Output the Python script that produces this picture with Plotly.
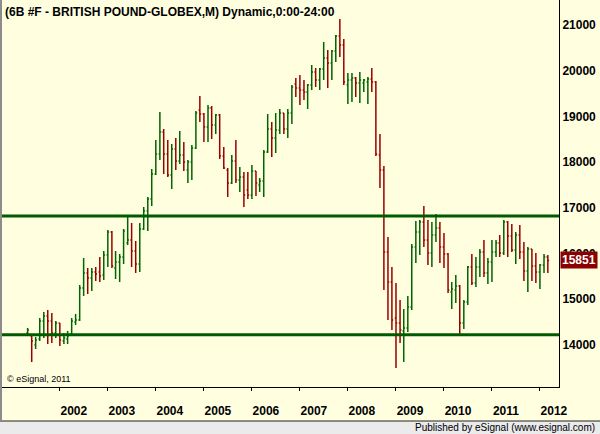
import pandas as pd
import plotly.graph_objects as go

# Monthly bars, May 2001 .. Mar 2012
months = pd.date_range("2001-05-01", periods=131, freq="MS")

opens = [14263, 14197, 14000, 14131, 14525, 14635, 14525, 14263,
         14481, 14088, 14131, 14241, 14503, 14547, 15247, 15575, 15466, 15597, 15597, 15531,
         15969, 16472, 15685, 15816, 15925, 16231, 16297, 16056, 15772, 16538, 16931, 17194,
         17741, 18178, 18659, 18178, 17719, 18288, 18025, 18156, 17828, 18003, 18310, 19141,
         19053, 18769, 19185, 18813, 19031, 18135, 17828, 17544, 18025, 17610, 17675, 17391,
         17281, 17806, 17500, 17588, 18222, 18725, 18528, 18703, 19075, 18725, 19075, 19710,
         19622, 19578, 19534, 19688, 19972, 19797, 20038, 20278, 20169, 20431, 20759, 20563,
         19688, 19797, 19841, 19731, 19731, 19753, 19819, 19753, 18156, 17828, 16035, 15378,
         14591, 14481, 14306, 14372, 14831, 16144, 16472, 16691, 16297, 16013, 16406, 16560,
         16144, 15991, 15160, 15203, 15291, 14481, 14941, 15706, 15356, 15706, 16035, 15575,
         15816, 16035, 16231, 16013, 16691, 16385, 16078, 16406, 16035, 15619, 16100, 15728,
         15597, 15750, 15925]

highs = [14372, 14197, 14175, 14591, 14722, 14766, 14700, 14525,
         14481, 14263, 14306, 14591, 14678, 15313, 15903, 15685, 15685, 15706, 15925, 16056,
         16516, 16494, 16056, 15991, 16538, 16822, 16669, 16275, 16669, 17019, 17238, 17850,
         18484, 19097, 18725, 18484, 18397, 18528, 18681, 18441, 18047, 18375, 19119, 19447,
         19075, 19250, 19228, 19053, 19053, 18331, 17872, 18156, 18484, 17894, 17785, 17785,
         17938, 17806, 17653, 18266, 19053, 18878, 19075, 19163, 19075, 19163, 19688, 19841,
         19906, 19797, 19710, 20125, 20059, 20059, 20628, 20453, 20453, 20781, 21131, 20694,
         19950, 19950, 19863, 19972, 19819, 19863, 20059, 19775, 18616, 17916, 16363, 15706,
         15356, 14985, 14788, 15072, 16210, 16713, 16735, 17041, 16735, 16691, 16866, 16691,
         16450, 16013, 15378, 15531, 15313, 14985, 15728, 15991, 15925, 16100, 16297, 15903,
         16297, 16297, 16406, 16735, 16713, 16647, 16472, 16625, 16253, 16144, 16100, 16013,
         15772, 15991, 15969]

lows = [14241, 13628, 13913, 14088, 14153, 14022, 14044, 14153,
        13978, 14022, 14022, 14219, 14438, 14525, 15072, 15116, 15181, 15400, 15378, 15422,
        15706, 15685, 15444, 15378, 15772, 16188, 15706, 15575, 15597, 16516, 16494, 17041,
        17719, 18047, 17741, 17675, 17413, 17828, 17960, 17806, 17544, 17610, 18288, 18878,
        18441, 18441, 18506, 18616, 18069, 17850, 17238, 17522, 17544, 17347, 17019, 17194,
        17194, 17260, 17347, 17238, 18200, 18113, 18200, 18616, 18616, 18528, 18835, 19425,
        19250, 19359, 19163, 19578, 19644, 19578, 19797, 19622, 19797, 20191, 20300, 19688,
        19272, 19316, 19425, 19294, 19534, 19272, 19534, 18135, 17435, 15203, 14547, 14328,
        13497, 14044, 13628, 14285, 14766, 15794, 15969, 16144, 15750, 15706, 16253, 15794,
        15685, 15138, 14788, 14919, 14219, 14350, 14875, 15313, 15269, 15488, 15488, 15335,
        15378, 15925, 15925, 15969, 15925, 16035, 15772, 15881, 15400, 15160, 15400, 15356,
        15225, 15575, 15575]

closes = [14328, 14088, 14110, 14525, 14635, 14525, 14263, 14481,
          14110, 14153, 14197, 14525, 14547, 15247, 15575, 15466, 15597, 15553, 15510, 15969,
          16472, 15728, 15816, 15925, 16494, 16297, 16056, 15772, 16538, 16931, 17194, 17741,
          18178, 18659, 18178, 17719, 18288, 18025, 18156, 18003, 18003, 18310, 19075, 19053,
          18769, 19185, 18813, 19031, 18135, 17872, 17544, 18025, 17610, 17675, 17281, 17281,
          17806, 17544, 17588, 18222, 18725, 18528, 18703, 19075, 18725, 19075, 19644, 19622,
          19578, 19534, 19688, 19972, 19797, 20038, 20278, 20169, 20431, 20759, 20563, 19753,
          19797, 19841, 19731, 19797, 19797, 19819, 19753, 18178, 17828, 16035, 15378, 14547,
          14481, 14328, 14372, 14831, 16144, 16472, 16691, 16297, 16013, 16406, 16560, 16144,
          15991, 15203, 15225, 15291, 14481, 14941, 15706, 15356, 15706, 16035, 15575, 15816,
          16035, 16231, 16013, 16691, 16385, 16078, 16406, 16035, 15619, 16100, 15728, 15597,
          15750, 15925, 15851]

year_labels = ["2002", "2003", "2004", "2005", "2006", "2007", "2008", "2009", "2010", "2011", "2012"]
year_ticks = [f"{y}-01-01" for y in year_labels]
price_ticks = [14000, 15000, 16000, 17000, 18000, 19000, 20000, 21000]
price_labels = [str(v) for v in price_ticks]
h_lines = [16822, 14225]
last_price = closes[-1]

GREEN = "#006400"
RED = "#9B0000"
BG = "#FFFFE0"
FONT = "Liberation Sans"

W, H = 600, 434
ML, MR, MT, MB = 2, 41, 0, 47
PW = W - ML - MR
PH = H - MT - MB

fig = go.Figure(go.Ohlc(
    x=months, open=opens, high=highs, low=lows, close=closes,
    increasing=dict(line=dict(color=GREEN, width=1.5)),
    decreasing=dict(line=dict(color=RED, width=1.5)),
    tickwidth=0.35, showlegend=False, hoverinfo="skip",
))

shapes = []
for v in h_lines:
    shapes.append(dict(type="line", xref="paper", yref="y", x0=0, x1=1, y0=v, y1=v,
                       line=dict(color="#005A00", width=3)))
# footer strip
foot_top = -(421 - PH) / PH
shapes.append(dict(type="rect", xref="paper", yref="paper", x0=-ML / PW - 0.01, x1=1 + MR / PW + 0.01,
                   y0=-MB / PH - 0.01, y1=foot_top, fillcolor="#EBEBEB", line=dict(width=0), layer="below"))
shapes.append(dict(type="line", xref="paper", yref="paper", x0=-ML / PW - 0.01, x1=1 + MR / PW + 0.01,
                   y0=foot_top, y1=foot_top, line=dict(color="#202020", width=1)))
shapes.append(dict(type="line", xref="paper", yref="paper", x0=-1 / PW, x1=-1 / PW,
                   y0=foot_top, y1=1, line=dict(color="#8C8C8C", width=2)))

annotations = [
    dict(text="(6B #F - BRITISH POUND-GLOBEX,M) Dynamic,0:00-24:00", xref="paper", yref="paper",
         x=1 / PW, y=1, xanchor="left", yanchor="top", yshift=-3, showarrow=False,
         font=dict(family=FONT, size=12, color="black", weight="bold")),
    dict(text="© eSignal, 2011", xref="paper", yref="paper", x=3 / PW, y=(PH - 379) / PH,
         xanchor="left", yanchor="middle", showarrow=False,
         font=dict(family=FONT, size=9, color="black")),
    dict(text="Published by eSignal (www.esignal.com)", xref="paper", yref="paper",
         x=(597 - ML) / PW, y=-(428 - PH) / PH, xanchor="right", yanchor="middle", showarrow=False,
         font=dict(family=FONT, size=10, color="black")),
    dict(text=f"{last_price}", xref="paper", yref="y", x=1, y=last_price, xanchor="left",
         yanchor="middle", xshift=1, showarrow=False, bgcolor="#8B0000", borderpad=1,
         font=dict(family=FONT, size=12, color="white", weight="bold")),
]

fig.update_layout(
    width=W, height=H, margin=dict(l=ML, r=MR, t=MT, b=MB),
    paper_bgcolor=BG, plot_bgcolor=BG,
    shapes=shapes, annotations=annotations,
    xaxis=dict(type="date", range=["2000-10-18", "2012-05-25"], tickvals=year_ticks, ticktext=year_labels,
               ticks="outside", ticklen=3, tickcolor="black", showline=True, linecolor="black",
               linewidth=1, showgrid=False, zeroline=False, rangeslider=dict(visible=False),
               ticklabelshift=14, ticklabelstandoff=10,
               tickfont=dict(family=FONT, size=12, color="black", weight="bold")),
    yaxis=dict(side="right", range=[13081, 21547], tickvals=price_ticks, ticktext=price_labels,
               ticks="", showline=True, linecolor="black", linewidth=1, showgrid=False, zeroline=False,
               tickfont=dict(family=FONT, size=12, color="black", weight="bold")),
)

fig.write_html("out.html")
